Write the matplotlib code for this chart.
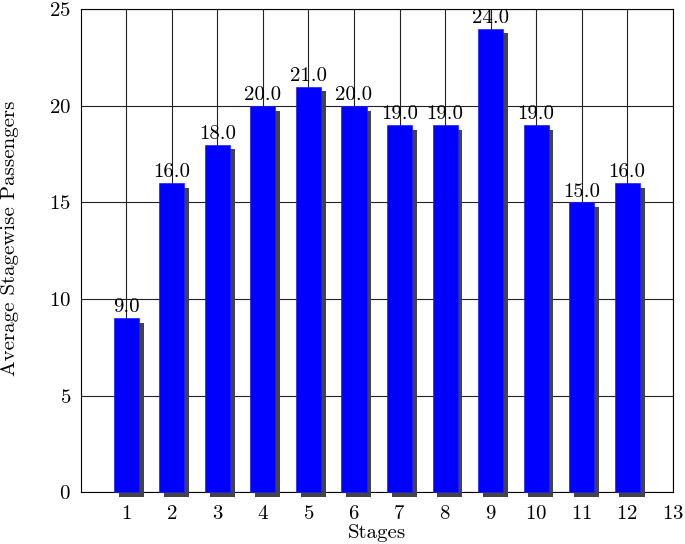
import numpy as np
import matplotlib
matplotlib.use("Agg")
import matplotlib.pyplot as plt
import matplotlib.patheffects as pe

plt.rcParams['font.family'] = ['cmr10', 'DejaVu Serif']
plt.rcParams['mathtext.fontset'] = 'cm'
plt.rcParams['axes.formatter.use_mathtext'] = True

# datos
stages = [1, 2, 3, 4, 5, 6, 7, 8, 9, 10, 11, 12]
passengers = [9.0, 16.0, 18.0, 20.0, 21.0, 20.0, 19.0, 19.0, 24.0, 19.0, 15.0, 16.0]

fig, ax = plt.subplots(figsize=(6.85, 5.44), dpi=100)
fig.subplots_adjust(left=0.118, right=0.982, top=0.983, bottom=0.095)

ax.set_axisbelow(True)
ax.grid(True, color='#222222', linewidth=0.8)

bars = ax.bar(stages, passengers, width=0.55, color='#0000ff', edgecolor='#2020ff',
              linewidth=0.5, clip_on=False, zorder=3)
for b in bars:
    b.set_path_effects([pe.SimplePatchShadow(offset=(3.5, -3.5), shadow_rgbFace='#444444', alpha=1.0),
                        pe.Normal()])

# etiquetas encima de cada barra
for x, v in zip(stages, passengers):
    ax.text(x, v + 0.1, f"{v:.1f}", ha='center', va='bottom', fontsize=15, zorder=5)

ax.set_xlim(0, 13)
ax.set_ylim(0, 25)
ax.set_xticks(np.arange(1, 14))
ax.set_yticks(np.arange(0, 26, 5))
ax.tick_params(length=0, labelsize=15)
ax.tick_params(axis='x', pad=9)
ax.tick_params(axis='y', pad=7)
ax.set_xlabel('Stages', fontsize=15, labelpad=0.5)
ax.set_ylabel('Average Stagewise Passengers', fontsize=15)
ax.yaxis.set_label_coords(-0.104, 0.526)

plt.savefig("out.png", dpi=100)
